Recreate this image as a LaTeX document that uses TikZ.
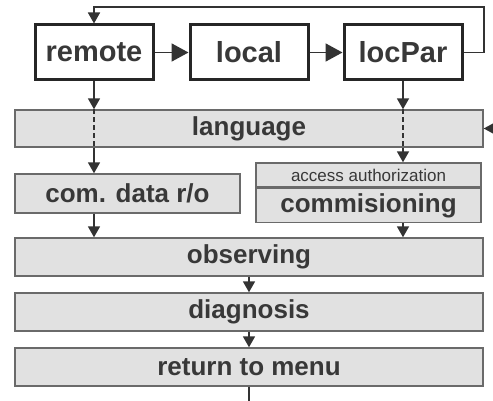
\documentclass[tikz,border=0pt]{standalone}
\usepackage{fontspec}
\setmainfont{Liberation Sans}
\usetikzlibrary{arrows.meta}
\definecolor{boxgray}{HTML}{E1E1E1}
\definecolor{edgegray}{HTML}{6A6A6A}
\definecolor{txtgray}{HTML}{383838}
\begin{document}
\begin{tikzpicture}[x=1pt, y=-1pt,
    mode/.style = {draw = black!85, line width = 3pt, fill = white, text = txtgray,
                   minimum width = 118pt, minimum height = 55pt, inner sep = 0pt,
                   font = \fontsize{29}{30}\selectfont\bfseries},
    stage/.style = {draw = edgegray, line width = 1.4pt, fill = boxgray, text = txtgray,
                    minimum height = 38pt, inner sep = 0pt,
                    font = \fontsize{26}{27}\selectfont\bfseries},
    flow/.style = {line width = 1.8pt, draw = black!80, -{Triangle[length=11pt,width=12pt]}},
    bigflow/.style = {line width = 1.8pt, draw = black!80, -{Triangle[length=17pt,width=18pt]}},
    hidden/.style = {line width = 1.8pt, draw = black!80, dash pattern = on 5pt off 3pt}]
  \fill[white] (0, 0) rectangle (493, 401);
  \useasboundingbox (0, 0) rectangle (493, 401);

  % operating modes
  \node[mode] (remote) at ( 94, 52.5) {remote};
  \node[mode] (local)  at (249, 52.5) {local};
  \node[mode] (locPar) at (403, 52.5) {locPar};

  % menu stages
  \node[stage, minimum width = 468pt, minimum height = 37pt] (language) at (249, 128.5) {language};
  \node[stage, minimum width = 225pt, minimum height = 39pt] (comdata) at (127.5, 193.5) {com. data r/o};
  \node[stage, minimum width = 225pt, minimum height = 24pt,
        font = \fontsize{17}{18}\selectfont] (access) at (368.5, 175) {access authorization};
  \node[stage, minimum width = 225pt, minimum height = 34pt, anchor = north] (commis) at (access.south) {commisioning};
  \node[stage, minimum width = 468pt] (observing) at (249, 257) {observing};
  \node[stage, minimum width = 468pt] (diagnosis) at (249, 312) {diagnosis};
  \node[stage, minimum width = 468pt] (menu)      at (249, 367) {return to menu};

  \coordinate (loop)  at (484, 7);
  \coordinate (entry) at (496, 128.5);
  \coordinate (exit)  at (249, 401);

  % mode switching
  \draw[bigflow] (remote) -- (local);
  \draw[bigflow] (local) -- (locPar);
  \draw[flow] (locPar.east) -| (loop) -| (remote.north);

  % into the menu
  \draw[flow] (remote) -- (remote |- language.north);
  \draw[hidden] (remote |- language.north) -- (remote |- language.south);
  \draw[flow] (remote |- language.south) -- (remote |- comdata.north);
  \draw[flow] (locPar) -- (locPar |- language.north);
  \draw[hidden] (locPar |- language.north) -- (locPar |- language.south);
  \draw[flow] (locPar |- language.south) -- (locPar |- access.north);
  \draw[bigflow] (entry) -- (language.east);

  \draw[flow] (remote |- comdata.south) -- (remote |- observing.north);
  \draw[flow] (locPar |- commis.south) -- (locPar |- observing.north);
  \draw[flow] (observing) -- (diagnosis);
  \draw[flow] (diagnosis) -- (menu);
  \draw[line width = 1.8pt, black!80] (menu) -- (exit);
\end{tikzpicture}
\end{document}
